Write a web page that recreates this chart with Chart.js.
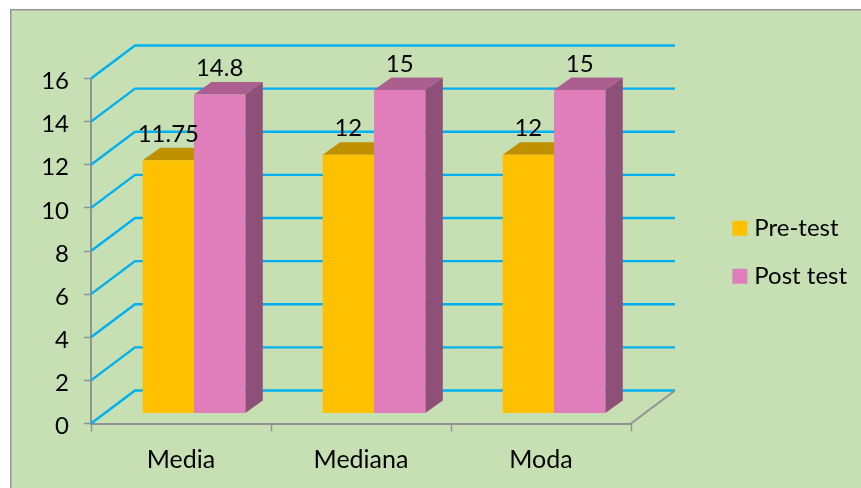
<!DOCTYPE html>
<html>
<head>
<meta charset="utf-8">
<style>
  html, body { margin: 0; padding: 0; background: #fff; }
  canvas { display: block; }
</style>
<script src="https://cdn.jsdelivr.net/npm/chart.js@4"></script>
</head>
<body>
<canvas id="chart" width="861" height="488"></canvas>
<script>
// Daten
const categories = ['Media', 'Mediana', 'Moda'];
const preTest = [11.75, 12, 12];
const postTest = [14.8, 15, 15];
const seriesNames = ['Pre-test', 'Post test'];

// Farben
const bgGreen = '#C6E0B4';
const gridBlue = '#00B0F0';
const axisGray = '#929292';
const frontColors = ['#FFC000', '#E07DBB'];
const topColors = ['#BF9000', '#AA5F8E'];
const sideColors = ['#7F6000', '#8E5078'];

const font = { family: 'Lato', size: 24 };
const catFont = { family: 'Lato', size: 25 };

// 3D Versatz
const wall = { dx: 44, dy: -33 };
const shift = { dx: 13, dy: -10 };
const depth = { dx: 17.5, dy: -12.5 };

function poly(ctx, pts, color) {
  ctx.fillStyle = color;
  ctx.beginPath();
  pts.forEach((p, i) => i ? ctx.lineTo(p[0], p[1]) : ctx.moveTo(p[0], p[1]));
  ctx.closePath();
  ctx.fill();
}

const fake3d = {
  id: 'fake3d',
  afterLayout(chart) {
    // Legende auf Höhe der Achsenmitte
    chart.legend.bottom = 426;
  },
  beforeDraw(chart) {
    const ctx = chart.ctx;
    ctx.save();
    ctx.fillStyle = bgGreen;
    ctx.fillRect(11, 10, 850, 478);
    ctx.fillStyle = axisGray;
    ctx.fillRect(10, 9, 851, 1.5);
    ctx.fillRect(10, 9, 1.5, 479);
    ctx.restore();
  },
  beforeDatasetsDraw(chart) {
    const ctx = chart.ctx;
    const { x, y } = chart.scales;
    ctx.save();
    // Rasterlinien auf Seiten- und Rückwand
    ctx.strokeStyle = gridBlue;
    ctx.lineWidth = 2.4;
    y.ticks.forEach(t => {
      const py = y.getPixelForValue(t.value);
      ctx.beginPath();
      ctx.moveTo(x.left, py);
      ctx.lineTo(x.left + wall.dx, py + wall.dy);
      ctx.lineTo(x.right + wall.dx, py + wall.dy);
      ctx.stroke();
    });
    // Boden rechts
    const py0 = y.getPixelForValue(0);
    ctx.strokeStyle = axisGray;
    ctx.lineWidth = 2;
    ctx.beginPath();
    ctx.moveTo(x.right, py0);
    ctx.lineTo(x.right + wall.dx, py0 + wall.dy);
    ctx.stroke();

    // Balken etwas nach hinten schieben, Deckel und Seite dazu
    ctx.translate(shift.dx, shift.dy);
    chart.data.datasets.forEach((ds, i) => {
      chart.getDatasetMeta(i).data.forEach(bar => {
        const l = bar.x - bar.width / 2, r = bar.x + bar.width / 2;
        poly(ctx, [[l, bar.y], [l + depth.dx, bar.y + depth.dy], [r + depth.dx, bar.y + depth.dy], [r, bar.y]], topColors[i]);
        poly(ctx, [[r, bar.y], [r + depth.dx, bar.y + depth.dy], [r + depth.dx, bar.base + depth.dy], [r, bar.base]], sideColors[i]);
      });
    });
  },
  afterDatasetsDraw(chart) {
    const ctx = chart.ctx;
    ctx.restore();
    // Werte über den Balken
    ctx.save();
    ctx.fillStyle = '#000';
    ctx.font = `${font.size}px ${font.family}`;
    ctx.textAlign = 'center';
    ctx.textBaseline = 'middle';
    chart.data.datasets.forEach((ds, i) => {
      chart.getDatasetMeta(i).data.forEach((bar, j) => {
        ctx.fillText(String(ds.data[j]), bar.x + shift.dx, bar.y + shift.dy - 26);
      });
    });
    ctx.restore();
  }
};

new Chart(document.getElementById('chart'), {
  type: 'bar',
  data: {
    labels: categories,
    datasets: [
      { label: seriesNames[0], data: preTest, backgroundColor: frontColors[0] },
      { label: seriesNames[1], data: postTest, backgroundColor: frontColors[1] }
    ]
  },
  options: {
    responsive: false,
    animation: false,
    categoryPercentage: 0.57,
    barPercentage: 1,
    layout: { padding: { top: 78.5, left: 0, right: 5, bottom: 0 } },
    plugins: {
      tooltip: { enabled: false },
      legend: {
        position: 'right',
        labels: {
          // kleine Box + dicker Rand, damit der Abstand zum Text passt
          boxWidth: 5,
          boxHeight: 5,
          padding: 24,
          color: '#000',
          font,
          generateLabels: chart => Chart.defaults.plugins.legend.labels.generateLabels(chart).map(item => ({
            ...item,
            strokeStyle: item.fillStyle,
            lineWidth: 10
          }))
        }
      }
    },
    scales: {
      x: {
        afterFit: s => { s.height = 64.5; },
        grid: { drawOnChartArea: false, tickLength: 8, tickColor: axisGray, tickWidth: 1.5 },
        border: { color: axisGray, width: 2 },
        ticks: { color: '#000', font: catFont, padding: 13, maxRotation: 0 }
      },
      y: {
        min: 0,
        max: 16,
        afterFit: s => { s.width = 91; },
        grid: { drawOnChartArea: false, tickLength: 7, tickColor: axisGray, tickWidth: 1.5 },
        border: { color: axisGray, width: 2 },
        ticks: {
          stepSize: 2,
          color: '#000',
          // leere erste Zeile: Zahl sitzt 3px unter dem Strich wie im Original
          font: { ...font, lineHeight: '6px' },
          callback: v => ['', String(v)],
          padding: 15
        }
      },
      // leere Achse hält den Abstand zwischen Diagramm und Legende
      spacer: {
        axis: 'y',
        type: 'linear',
        position: 'right',
        afterFit: s => { s.width = 225 - s.chart.legend.width; },
        grid: { display: false },
        border: { display: false },
        ticks: { display: false }
      }
    }
  },
  plugins: [fake3d]
});
</script>
</body>
</html>
